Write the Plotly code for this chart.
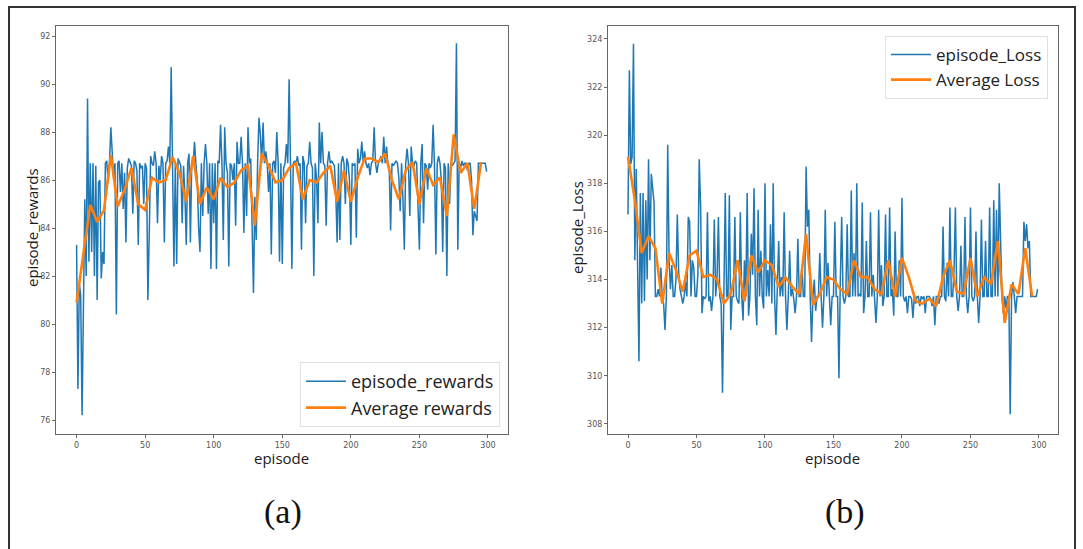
import plotly.graph_objects as go

# ---------------- data ----------------
episodes = list(range(300))
avg_episodes = list(range(0, 300, 5))

episode_rewards = [
    83.3, 77.3, 81.7, 81.2, 76.2, 81.9, 85.2, 82.0, 89.4, 82.6,
    86.7, 83.0, 86.7, 82.0, 86.6, 81.0, 85.9, 86.0, 81.9, 83.0,
    82.5, 86.7, 86.8, 85.9, 86.7, 88.2, 86.8, 86.1, 86.7, 80.4,
    86.7, 86.8, 85.5, 86.7, 84.8, 86.3, 83.4, 86.5, 86.9, 86.7,
    86.6, 84.6, 86.8, 86.7, 86.4, 83.3, 86.7, 86.5, 86.6, 85.0,
    86.7, 86.5, 81.0, 83.7, 87.0, 86.7, 86.6, 87.2, 86.7, 84.2,
    86.6, 86.0, 87.0, 86.7, 83.4, 86.7, 86.8, 87.4, 86.7, 90.7,
    86.7, 82.4, 86.7, 82.5, 86.9, 86.7, 86.6, 84.2, 86.6, 85.4,
    83.3, 86.7, 87.1, 83.4, 86.8, 86.7, 87.6, 86.7, 86.0, 84.0,
    83.0, 86.7, 84.5, 86.7, 87.5, 86.7, 84.6, 86.7, 82.3, 86.7,
    84.2, 86.7, 82.3, 86.8, 86.7, 88.3, 86.7, 83.5, 88.2, 86.7,
    86.3, 82.4, 86.7, 86.6, 86.0, 86.7, 84.1, 87.6, 86.7, 86.7,
    87.8, 86.7, 83.8, 86.7, 84.5, 88.2, 86.7, 86.9, 84.2, 81.3,
    85.3, 83.5, 86.7, 88.6, 87.9, 86.7, 88.4, 86.7, 87.2, 86.7,
    85.5, 86.7, 82.9, 86.7, 86.8, 86.3, 88.0, 86.7, 82.6, 86.7,
    82.5, 86.5, 86.7, 87.5, 86.7, 90.2, 86.7, 82.3, 86.7, 86.8,
    86.7, 87.0, 86.6, 86.7, 83.1, 87.0, 86.7, 84.2, 86.6, 86.7,
    87.6, 86.7, 86.5, 82.0, 86.7, 86.1, 84.2, 88.4, 86.7, 88.0,
    86.7, 86.6, 84.1, 86.7, 87.2, 86.7, 86.8, 86.7, 86.6, 85.5,
    83.4, 86.7, 83.5, 86.7, 87.0, 86.7, 85.0, 86.9, 86.7, 86.0,
    83.3, 86.7, 86.6, 86.7, 83.6, 87.3, 86.7, 86.9, 87.6, 86.7,
    87.2, 86.7, 86.5, 86.7, 86.2, 86.7, 86.8, 88.2, 86.7, 86.3,
    86.7, 86.8, 87.0, 86.7, 87.8, 86.7, 87.4, 86.7, 86.5, 83.9,
    86.7, 86.6, 86.7, 86.8, 86.7, 86.1, 84.7, 86.7, 85.2, 83.1,
    86.7, 87.3, 86.7, 84.5, 87.4, 86.7, 86.6, 86.8, 86.7, 85.0,
    83.1, 86.7, 87.5, 84.2, 86.7, 86.6, 85.6, 86.7, 86.5, 86.7,
    88.3, 86.6, 82.9, 86.7, 87.0, 86.7, 86.0, 83.0, 86.7, 86.5,
    82.0, 86.7, 85.0, 86.7, 86.6, 86.7, 86.8, 91.7, 83.1, 86.7,
    86.5, 86.8, 86.6, 86.7, 86.7, 86.4, 86.7, 86.7, 86.0, 83.7,
    84.7, 84.5, 84.3, 86.7, 86.7, 86.7, 86.7, 86.7, 86.7, 86.35,
]

average_rewards = [
    80.9, 83.0, 84.96, 84.25, 84.75, 87.04, 84.9, 85.6, 86.5, 85.0,
    84.75, 86.1, 85.9, 86.0, 86.96, 86.3, 85.1, 87.0, 85.0, 85.7,
    85.2, 86.1, 85.7, 85.9, 86.4, 86.6, 84.1, 87.1, 86.6, 85.9,
    86.0, 86.5, 86.7, 85.2, 86.0, 85.9, 86.3, 86.6, 85.1, 86.4,
    85.1, 86.1, 86.9, 86.9, 86.75, 87.1, 86.0, 85.2, 86.4, 86.75,
    85.0, 86.5, 85.8, 86.1, 84.5, 87.9, 86.3, 86.7, 84.8, 86.75,
]

episode_loss = [
    316.7, 322.7, 318.8, 319.1, 323.8, 314.8, 318.6, 314.9, 310.6, 317.6,
    313.0, 317.6, 313.1, 317.3, 314.0, 319.0, 314.8, 318.4, 317.6, 317.2,
    313.3, 313.3, 313.6, 313.3, 314.5, 313.2, 313.0, 311.9, 313.3, 319.6,
    314.8, 313.6, 314.6, 313.3, 313.3, 314.0, 316.7, 314.3, 313.6, 313.3,
    313.0, 313.3, 313.9, 313.3, 316.6, 316.4, 313.3, 314.8, 314.5, 313.3,
    313.3, 314.2, 319.0, 317.1, 312.6, 313.3, 313.2, 313.3, 316.8, 313.1,
    313.3, 312.7, 313.3, 316.5, 313.3, 314.1, 316.6, 313.3, 313.0, 309.3,
    313.3, 317.6, 313.3, 313.3, 317.5, 311.9, 313.3, 313.3, 316.6, 313.3,
    313.1, 313.0, 316.8, 313.3, 312.3, 314.8, 313.3, 317.6, 312.5, 313.3,
    315.9, 314.2, 317.8, 313.3, 312.1, 316.9, 313.3, 315.2, 313.3, 312.8,
    318.0, 313.3, 314.4, 313.3, 316.3, 313.0, 318.0, 313.3, 311.7, 313.3,
    315.6, 313.3, 314.1, 313.3, 316.8, 313.3, 311.9, 313.3, 315.2, 313.3,
    313.6, 313.2, 312.6, 313.3, 315.7, 313.3, 313.3, 314.6, 313.3, 313.3,
    318.7, 316.2, 316.9, 313.3, 311.4, 313.3, 314.0, 312.7, 313.3, 313.3,
    315.1, 313.3, 312.0, 313.3, 316.9, 313.3, 314.7, 313.3, 312.1, 313.3,
    313.3, 316.4, 313.3, 313.3, 309.9, 314.0, 316.6, 313.3, 313.0, 313.3,
    316.3, 313.3, 313.3, 317.7, 313.3, 315.1, 313.3, 318.0, 313.3, 313.4,
    313.3, 317.2, 312.6, 313.3, 315.6, 313.3, 313.3, 316.8, 313.3, 314.2,
    313.3, 312.2, 313.3, 316.9, 313.3, 314.6, 312.9, 313.3, 316.7, 313.3,
    313.3, 317.0, 313.3, 313.6, 312.5, 316.0, 313.3, 313.3, 314.8, 313.3,
    317.4, 313.3, 313.1, 313.3, 312.6, 313.3, 313.3, 313.2, 312.4, 313.3,
    313.0, 313.3, 313.3, 312.9, 313.3, 313.2, 313.3, 312.6, 313.3, 313.3,
    313.3, 313.2, 312.9, 313.3, 312.1, 313.3, 313.3, 313.0, 313.3, 313.3,
    316.2, 313.3, 313.1, 314.7, 313.3, 317.0, 313.3, 313.3, 314.4, 317.0,
    313.3, 312.7, 313.3, 315.4, 313.3, 313.3, 316.6, 313.3, 312.6, 313.3,
    317.0, 313.3, 313.1, 313.3, 316.0, 313.3, 312.2, 313.3, 316.5, 313.3,
    313.3, 315.6, 313.3, 313.3, 317.0, 313.3, 313.3, 317.3, 313.3, 316.9,
    313.3, 318.0, 315.6, 313.3, 312.6, 313.3, 312.8, 313.3, 313.3, 308.4,
    313.3, 313.9, 313.3, 312.6, 313.3, 313.3, 313.3, 313.3, 313.3, 316.4,
    315.6, 316.3, 315.3, 315.6, 313.3, 313.3, 313.3, 313.3, 313.3, 313.6,
]

average_loss = [
    319.1, 317.3, 315.1, 315.8, 315.3, 313.0, 315.1, 314.4, 313.5, 315.0,
    315.2, 314.1, 314.2, 314.0, 313.0, 313.4, 314.8, 313.1, 315.0, 314.3,
    314.8, 314.6, 313.7, 314.1, 313.7, 313.4, 315.9, 312.95, 313.4, 314.1,
    314.0, 313.6, 313.4, 314.8, 314.1, 314.1, 313.6, 313.4, 314.8, 313.3,
    314.9, 314.1, 313.1, 313.0, 313.2, 312.9, 314.1, 314.8, 313.5, 313.4,
    314.9, 313.3, 314.1, 313.8, 315.6, 312.2, 313.8, 313.4, 315.3, 313.3,
]

assert len(episode_rewards) == 300 and len(episode_loss) == 300
assert len(average_rewards) == 60 and len(average_loss) == 60

reward_ticks = [76, 78, 80, 82, 84, 86, 88, 90, 92]
loss_ticks = [308, 310, 312, 314, 316, 318, 320, 322, 324]
episode_ticks = [0, 50, 100, 150, 200, 250, 300]

# ---------------- figure ----------------
W, H = 1083, 549
BLUE = "#1f77b4"
ORANGE = "#ff7f0e"


def px(x):
    return x / W


def py(y):
    return 1 - y / H


fig = go.Figure()

fig.add_trace(go.Scatter(x=episodes, y=episode_rewards, mode="lines",
                         name="episode_rewards", line=dict(color=BLUE, width=1.5),
                         xaxis="x", yaxis="y", legend="legend"))
fig.add_trace(go.Scatter(x=avg_episodes, y=average_rewards, mode="lines",
                         name="Average rewards", line=dict(color=ORANGE, width=2.6),
                         xaxis="x", yaxis="y", legend="legend"))
fig.add_trace(go.Scatter(x=episodes, y=episode_loss, mode="lines",
                         name="episode_Loss", line=dict(color=BLUE, width=1.5),
                         xaxis="x2", yaxis="y2", legend="legend2"))
fig.add_trace(go.Scatter(x=avg_episodes, y=average_loss, mode="lines",
                         name="Average Loss", line=dict(color=ORANGE, width=2.6),
                         xaxis="x2", yaxis="y2", legend="legend2"))

tickfont = dict(family="DejaVu Sans", size=8, color="#555")
axis_common = dict(showgrid=False, zeroline=False, showline=True, mirror=True,
                   linecolor="#666", linewidth=1, ticks="outside", ticklen=3,
                   tickcolor="#666", tickfont=tickfont)

ydom = [py(434), py(26)]

fig.update_layout(
    width=W, height=H,
    margin=dict(l=0, r=0, t=0, b=0),
    paper_bgcolor="white", plot_bgcolor="white",
    xaxis=dict(domain=[px(56), px(508)], range=[-15, 314.6], tickvals=episode_ticks,
               anchor="y", **axis_common),
    yaxis=dict(domain=ydom, range=[75.42, 92.42], tickvals=reward_ticks,
               anchor="x", **axis_common),
    xaxis2=dict(domain=[px(608), px(1058)], range=[-14.6, 313.9], tickvals=episode_ticks,
                anchor="y2", **axis_common),
    yaxis2=dict(domain=ydom, range=[307.58, 324.54], tickvals=loss_ticks,
                anchor="x2", **axis_common),
    legend=dict(x=px(500), y=py(427), xanchor="right", yanchor="bottom",
                bgcolor="rgba(255,255,255,0.95)", bordercolor="#e0e0e0", borderwidth=1,
                font=dict(family="Open Sans", size=18, color="#222"),
                itemwidth=40, tracegroupgap=0),
    legend2=dict(x=px(1048), y=py(36), xanchor="right", yanchor="top",
                 bgcolor="rgba(255,255,255,0.95)", bordercolor="#e0e0e0", borderwidth=1,
                 font=dict(family="Open Sans", size=17, color="#222"),
                 itemwidth=40, tracegroupgap=0),
    showlegend=True,
)

label_font = dict(family="Open Sans", size=15, color="#1a1a1a")
annotations = [
    dict(text="episode", x=px(281), y=py(458), font=label_font),
    dict(text="episode", x=px(832), y=py(458), font=label_font),
    dict(text="episode_rewards", x=px(32), y=py(228), textangle=-90, font=label_font),
    dict(text="episode_Loss", x=px(577), y=py(228), textangle=-90, font=label_font),
    dict(text="(a)", x=px(283), y=py(512),
         font=dict(family="Liberation Serif", size=34, color="#111")),
    dict(text="(b)", x=px(845), y=py(512),
         font=dict(family="Liberation Serif", size=34, color="#111")),
]
for a in annotations:
    fig.add_annotation(xref="paper", yref="paper", showarrow=False,
                       xanchor="center", yanchor="middle", **a)

# outer frame of the figure panel
fig.add_shape(type="rect", xref="paper", yref="paper",
              x0=px(9), x1=px(1075), y0=py(560), y1=py(7),
              line=dict(color="#333", width=2), layer="below")

fig.write_html("out.html", config={"displayModeBar": False},
               post_script="document.body.style.margin='0';")
